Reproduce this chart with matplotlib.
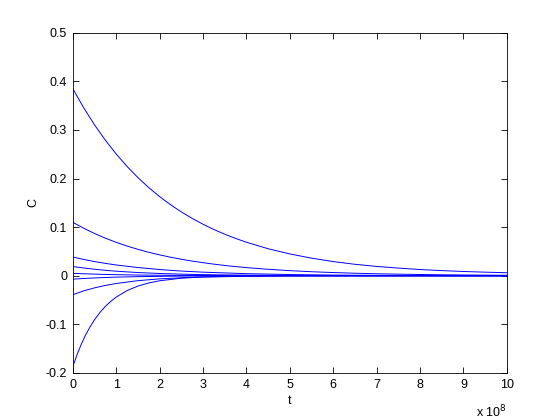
import matplotlib
matplotlib.use("Agg")
import numpy as np
import matplotlib.pyplot as plt

plt.rcParams['font.family'] = ['Liberation Sans', 'DejaVu Sans']

# time in units of 1e8
t = [0, 0.25, 0.5, 0.75, 1, 1.5, 2, 2.5, 3, 4, 5, 6, 7, 8, 9, 10]
c3 = [0.0385, 0.0336, 0.0292, 0.0255, 0.0222, 0.0169, 0.0128, 0.0097, 0.0074, 0.0043,
      0.0025, 0.0014, 0.0008, 0.0005, 0.0003, 0.0002]
c4 = [0.019, 0.0160, 0.0134, 0.0112, 0.0094, 0.0066, 0.0047, 0.0033, 0.0023, 0.0012,
      0.0006, 0.0003, 0.0001, 0.0001, 0.0, 0.0]
c5 = [0.0050, 0.0041, 0.0034, 0.0027, 0.0022, 0.0015, 0.0010, 0.0007, 0.0005, 0.0002,
      0.0001, 0.0, 0.0, 0.0, 0.0, 0.0]
c6 = [-0.0070, -0.0056, -0.0045, -0.0036, -0.0028, -0.0018, -0.0012, -0.0007, -0.0005,
      -0.0002, -0.0001, 0.0, 0.0, 0.0, 0.0, 0.0]
c7 = [-0.0390, -0.0311, -0.0249, -0.0199, -0.0159, -0.0101, -0.0064, -0.0041, -0.0026,
      -0.0011, -0.0004, -0.0002, -0.0001, 0.0, 0.0, 0.0]

# the two big positive curves, sampled more densely
t12 = [0, 0.25, 0.5, 0.75, 1, 1.25, 1.5, 1.75, 2, 2.25, 2.5, 2.75, 3, 3.25, 3.5, 3.75, 4,
       4.5, 5, 5.5, 6, 6.5, 7, 7.5, 8, 8.5, 9, 9.5, 10]
c1 = [0.3850, 0.3458, 0.3105, 0.2789, 0.2505, 0.2249, 0.2020, 0.1814, 0.1629, 0.1463,
      0.1314, 0.1180, 0.1060, 0.0952, 0.0855, 0.0768, 0.0690, 0.0556, 0.0449, 0.0362,
      0.0292, 0.0236, 0.0192, 0.0158, 0.0128, 0.0106, 0.0088, 0.0074, 0.0062]
c2 = [0.1100, 0.0978, 0.0870, 0.0773, 0.0688, 0.0611, 0.0544, 0.0483, 0.0430, 0.0382,
      0.0340, 0.0302, 0.0269, 0.0239, 0.0212, 0.0189, 0.0168, 0.0133, 0.0105, 0.0083,
      0.0066, 0.0052, 0.0041, 0.0033, 0.0026, 0.0020, 0.0016, 0.0013, 0.0010]

# the steep negative curve
t8 = [0, 0.1, 0.2, 0.3, 0.4, 0.5, 0.625, 0.75, 0.875, 1, 1.25, 1.5, 1.75, 2, 2.5, 3,
      4, 5, 6, 8, 10]
c8 = [-0.187, -0.1618, -0.1399, -0.1210, -0.1047, -0.0906, -0.0756, -0.0630, -0.0526,
      -0.0439, -0.0305, -0.0212, -0.0148, -0.0103, -0.0050, -0.0024, -0.0006, -0.0001,
      0.0, 0.0, 0.0]

fig = plt.figure(figsize=(5.6, 4.2), dpi=100)
ax = fig.add_axes([0.13, 0.112, 0.775, 0.81])

ax.plot(t12, c1, color='#0000ff', lw=0.7)
ax.plot(t12, c2, color='#0000ff', lw=0.7)
for c in [c3, c4, c5, c6, c7]:
    ax.plot(t, c, color='#0000ff', lw=0.7)
ax.plot(t8, c8, color='#0000ff', lw=0.7)

ax.set_xlim(0, 10)
ax.set_ylim(-0.2, 0.5)
ax.set_xticks(range(0, 11))
ax.set_yticks(np.arange(-0.2, 0.51, 0.1))
ax.set_yticklabels(['-0.2', '-0.1', '0', '0.1', '0.2', '0.3', '0.4', '0.5'])
ax.tick_params(direction='in', top=True, right=True, length=4, width=0.6,
               labelsize=9, pad=4)
for s in ax.spines.values():
    s.set_linewidth(0.6)

ax.set_xlabel('t', fontsize=9, labelpad=3)
ax.set_ylabel('C', fontsize=9, labelpad=5)
ax.text(0.93, -0.115, r'x 10$^8$', transform=ax.transAxes, fontsize=9,
        ha='left', va='center')

fig.savefig('out.png', dpi=100)
